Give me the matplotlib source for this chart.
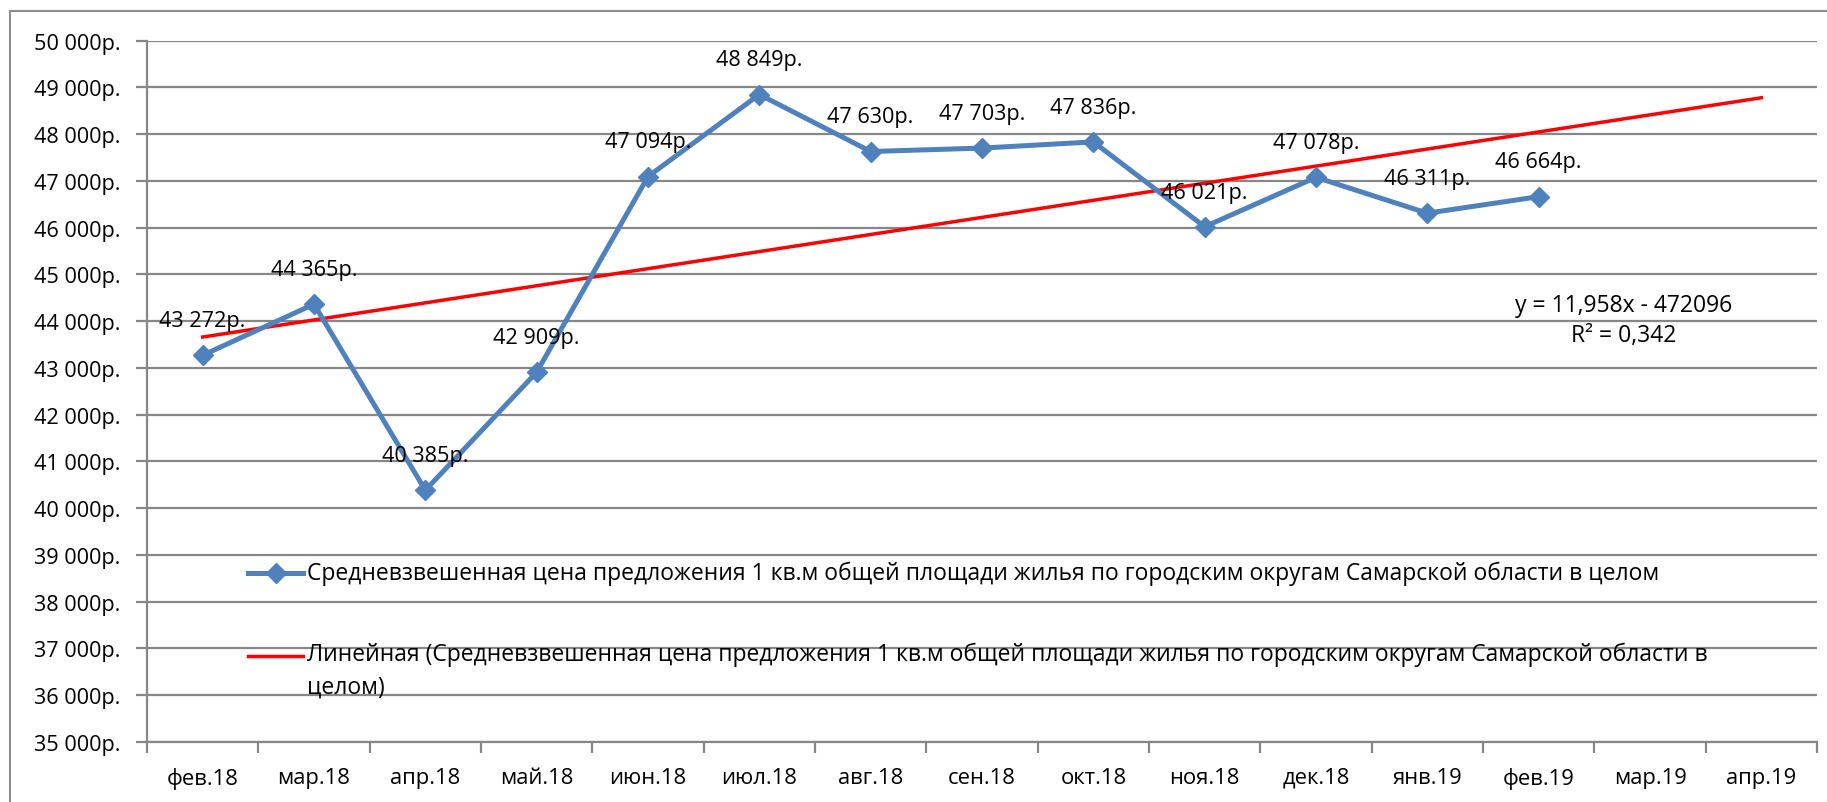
import numpy as np
import matplotlib
matplotlib.use("Agg")
import matplotlib.pyplot as plt
from matplotlib.patches import Rectangle
from matplotlib.ticker import FixedLocator, FuncFormatter

plt.rcParams['font.family'] = ['Open Sans', 'DejaVu Sans']

months = ["фев.18", "мар.18", "апр.18", "май.18", "июн.18", "июл.18", "авг.18",
          "сен.18", "окт.18", "ноя.18", "дек.18", "янв.19", "фев.19", "мар.19", "апр.19"]
prices = [43272, 44365, 40385, 42909, 47094, 48849, 47630, 47703, 47836,
          46021, 47078, 46311, 46664]
series_label = ("Средневзвешенная цена предложения 1 кв.м общей площади жилья по "
                "городским округам Самарской области в целом")
trend_label = ("Линейная (Средневзвешенная цена предложения 1 кв.м общей площади жилья по "
               "городским округам Самарской области в\nцелом)")
equation_text = "y = 11,958x - 472096\nR² = 0,342"

W, H = 1827, 803
fig = plt.figure(figsize=(W / 100, H / 100), dpi=100)
fig.patch.set_facecolor('white')
# outer chart border
fig.add_artist(Rectangle((10 / W, -0.05), 1.2, 1 - 12 / H + 0.05, transform=fig.transFigure,
                         fill=False, edgecolor='#8c8c8c', linewidth=1.5))

left, right, top, bottom = 147, 1817, 41.7, 743
ax = fig.add_axes([left / W, 1 - bottom / H, (right - left) / W, (bottom - top) / H])

grid_c = '#878787'
x = np.arange(len(prices))
xall = np.arange(len(months))

NUM_FS = 15.6
LEG_FS = 16.45

ax.set_ylim(35000, 50000)
ax.set_xlim(-0.5, len(months) - 0.5)
ax.set_yticks(np.arange(35000, 50001, 1000))
ax.yaxis.set_major_formatter(FuncFormatter(lambda v, p: f"{int(v):,}".replace(",", " ") + "р."))
ax.grid(axis='y', color=grid_c, linewidth=1.6)
ax.set_axisbelow(True)

ax.xaxis.set_major_locator(FixedLocator(np.arange(-0.5, len(months), 1.0)))
ax.xaxis.set_major_formatter(FuncFormatter(lambda v, p: ""))
ax.xaxis.set_minor_locator(FixedLocator(xall))
ax.set_xticklabels(months, minor=True)
ax.tick_params(axis='x', which='minor', length=0, pad=18, labelsize=15.8)
ax.tick_params(axis='x', which='major', length=8, width=1.6, color=grid_c)
ax.tick_params(axis='y', length=8, width=1.6, color=grid_c, labelsize=NUM_FS, pad=11)

for s in ['top', 'right']:
    ax.spines[s].set_visible(False)
for s in ['left', 'bottom']:
    ax.spines[s].set_color(grid_c)
    ax.spines[s].set_linewidth(1.6)

# trend line (linear fit, forecast 2 periods forward)
coef = np.polyfit(x, prices, 1)
trend = np.polyval(coef, xall)
ax.plot(xall, trend, color='#ff0000', linewidth=2.5, zorder=3)

blue = '#4f81bd'
ax.plot(x, prices, color=blue, linewidth=3.6, marker='D', markersize=10,
        markeredgecolor=blue, zorder=4)

for xi, v in zip(x, prices):
    ax.annotate(f"{v:,}".replace(",", " ") + "р.", (xi, v), xytext=(0, 25),
                textcoords='offset points', ha='center', va='center', fontsize=NUM_FS, zorder=5)

ax.text(1624 / W, 1 - 321 / H, equation_text, transform=fig.transFigure,
        ha='center', va='center', fontsize=16.5, linespacing=1.35)

# legend (drawn inside plot area, no frame)
def fx(px):
    return (px - left) / (right - left)

def fy(py):
    return (bottom - py) / (bottom - top)

ax.plot([fx(248), fx(303)], [fy(574), fy(574)], transform=ax.transAxes, color=blue,
        linewidth=3.6, clip_on=False)
ax.plot([fx(276)], [fy(574)], transform=ax.transAxes, color=blue, marker='D',
        markersize=10, clip_on=False)
ax.text(fx(307), fy(574), series_label, transform=ax.transAxes, ha='left', va='center',
        fontsize=LEG_FS)
ax.plot([fx(248), fx(303)], [fy(657), fy(657)], transform=ax.transAxes, color='#ff0000',
        linewidth=2.5, clip_on=False)
ax.text(fx(307), fy(643), trend_label, transform=ax.transAxes, ha='left', va='top',
        fontsize=LEG_FS, linespacing=1.45)

fig.savefig("out.png", dpi=100)
